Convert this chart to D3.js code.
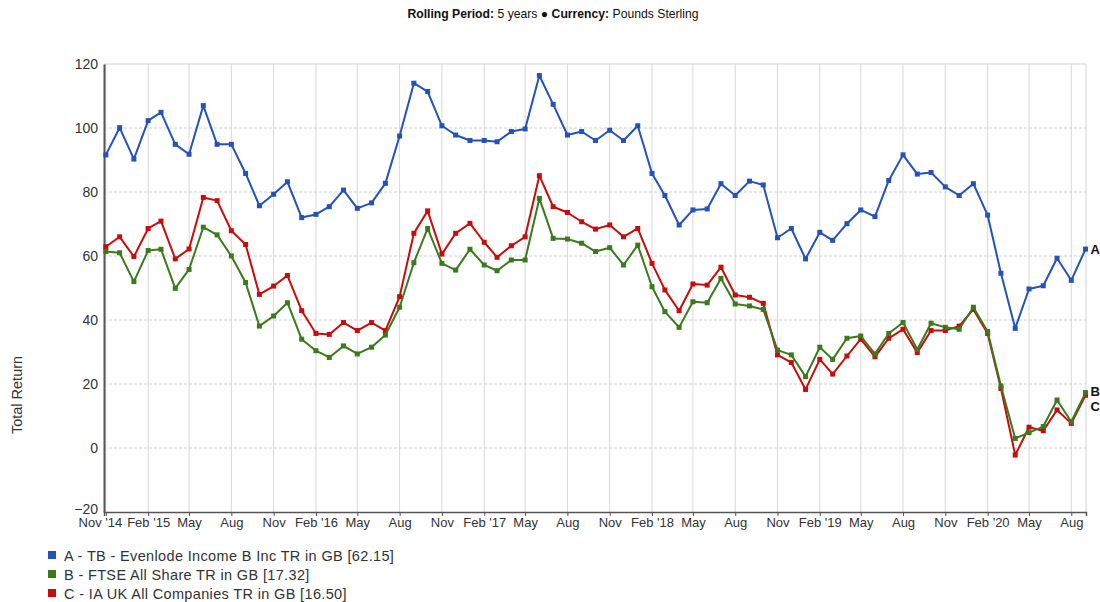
<!DOCTYPE html>
<html>
<head>
<meta charset="utf-8">
<script src="https://cdn.jsdelivr.net/npm/d3@7"></script>
<style>
  body { margin: 0; background: #fff; }
  svg { font-family: "Liberation Sans", Arial, sans-serif; }
  .grid-x line { stroke: #d9d9d9; stroke-width: 1; }
  .grid-y line { stroke: #d0d0d0; stroke-dasharray: 3,2; }
  .axis text { fill: #333; font-size: 13px; }
  .y-axis text { font-size: 14px; }
  .line { fill: none; stroke-width: 2; stroke-linejoin: round; }
</style>
</head>
<body>
<div id="container"></div>
<script>
// monthly values, Nov 2014 .. Sep 2020
const seriesA = [91.6, 100.1, 90.3, 102.3, 104.9, 94.9, 91.8, 107, 94.9, 94.9, 85.8, 75.7,
  79.3, 83.2, 72, 73, 75.4, 80.6, 74.9, 76.6, 82.7, 97.5, 114, 111.4,
  100.7, 97.8, 96.1, 96.1, 95.7, 98.9, 99.7, 116.4, 107.4, 97.8, 98.9, 96.1,
  99.3, 96.1, 100.7, 85.8, 78.9, 69.7, 74.4, 74.7, 82.6, 78.9, 83.4, 82.2,
  65.7, 68.6, 59.1, 67.4, 64.9, 70.1, 74.4, 72.3, 83.6, 91.6, 85.6, 86.1,
  81.6, 78.9, 82.6, 72.8, 54.6, 37.4, 49.7, 50.7, 59.3, 52.4, 62.15];
const seriesB = [61.4, 61, 52, 61.7, 62.1, 49.9, 55.8, 69, 66.6, 60, 51.7, 38.1,
  41.25, 45.4, 34, 30.4, 28.3, 31.9, 29.4, 31.5, 35.3, 44, 57.9, 68.6,
  57.7, 55.6, 62.1, 57.2, 55.4, 58.75, 58.75, 78, 65.5, 65.3, 64, 61.4,
  62.6, 57.2, 63.4, 50.4, 42.6, 37.7, 45.7, 45.4, 53, 45, 44.4, 43.3,
  30.6, 29.1, 22.3, 31.5, 27.7, 34.3, 35, 29.4, 35.8, 39.2, 30.8, 39,
  37.7, 37.1, 44, 36.4, 19.4, 3, 4.8, 6.7, 15, 8.2, 17.32];
const seriesC = [62.9, 66, 59.8, 68.6, 70.9, 59.1, 62.2, 78.3, 77.3, 67.9, 63.6, 48,
  50.6, 53.9, 42.9, 35.8, 35.5, 39.2, 36.7, 39.2, 36.7, 47.3, 67.1, 74.1,
  60.6, 67.1, 70.2, 64.3, 59.6, 63.2, 66, 85.1, 75.4, 73.6, 70.7, 68.4,
  69.7, 66, 68.6, 57.7, 49.4, 42.9, 51.25, 50.9, 56.5, 47.8, 47.1, 45.2,
  29.1, 26.7, 18.3, 27.7, 23.1, 28.75, 34, 28.5, 34.3, 37.1, 29.8, 36.7,
  36.7, 38.1, 43.3, 35.8, 18.6, -2.2, 6.5, 5.4, 11.9, 7.7, 16.5];

const seriesKeys = ["A", "B", "C"];
const seriesNames = [
  "A - TB - Evenlode Income B Inc TR in GB [62.15]",
  "B - FTSE All Share TR in GB [17.32]",
  "C - IA UK All Companies TR in GB [16.50]"
];
const seriesColors = ["#2452b8", "#3a7a1c", "#c80c0c"];

const xTickLabels = ["Nov '14", "Feb '15", "May", "Aug", "Nov", "Feb '16", "May", "Aug",
  "Nov", "Feb '17", "May", "Aug", "Nov", "Feb '18", "May", "Aug",
  "Nov", "Feb '19", "May", "Aug", "Nov", "Feb '20", "May", "Aug"];
const yTicks = [-20, 0, 20, 40, 60, 80, 100, 120];

const months = d3.timeMonth.range(new Date(2014, 10, 1), new Date(2020, 9, 1));
const tickDates = d3.timeMonth.range(new Date(2014, 10, 1), new Date(2020, 8, 2), 3);

const width = 1100, height = 602;
const margin = {top: 64, right: 14, bottom: 90, left: 104};

const svg = d3.select("#container").append("svg")
  .attr("width", width)
  .attr("height", height);

const x = d3.scaleTime()
  .domain([new Date(2014, 9, 28), new Date(2020, 8, 2)])
  .range([margin.left, width - margin.right]);

const y = d3.scaleLinear()
  .domain([-20, 120])
  .range([height - margin.bottom, margin.top]);

// title
const title = svg.append("text")
  .attr("x", 553).attr("y", 18)
  .attr("text-anchor", "middle")
  .style("font-size", "12.2px")
  .attr("fill", "#111");
title.append("tspan").attr("font-weight", "bold").text("Rolling Period:");
title.append("tspan").text(" 5 years \u25CF ");
title.append("tspan").attr("font-weight", "bold").text("Currency:");
title.append("tspan").text(" Pounds Sterling");

// grid
svg.append("g").attr("class", "grid-x")
  .selectAll("line").data(tickDates).join("line")
  .attr("x1", d => x(d)).attr("x2", d => x(d))
  .attr("y1", margin.top).attr("y2", height - margin.bottom);

svg.append("g").attr("class", "grid-y")
  .selectAll("line").data(yTicks.filter(d => d > -20 && d < 120)).join("line")
  .attr("x1", margin.left).attr("x2", width - margin.right)
  .attr("y1", d => y(d)).attr("y2", d => y(d));

// plot frame (top and right)
svg.append("path")
  .attr("d", `M${margin.left},${margin.top}H${width - margin.right}V${height - margin.bottom}`)
  .attr("fill", "none").attr("stroke", "#d4d4d4");

// axes
const xAxis = svg.append("g").attr("class", "axis")
  .attr("transform", `translate(0,${height - margin.bottom})`)
  .call(d3.axisBottom(x).tickValues(tickDates).tickSize(4).tickPadding(2)
    .tickFormat((d, i) => xTickLabels[i]));
xAxis.select(".domain").attr("stroke", "#555").attr("stroke-width", 1.5);
xAxis.selectAll(".tick line").attr("stroke", "#555");
// first label sits a little left of its tick, as in the source
xAxis.selectAll(".tick text").filter((d, i) => i === 0).attr("dx", -6);

const yAxis = svg.append("g").attr("class", "axis y-axis")
  .attr("transform", `translate(${margin.left},0)`)
  .call(d3.axisLeft(y).tickValues(yTicks).tickSize(0).tickPadding(6));
yAxis.select(".domain").attr("stroke", "#555").attr("stroke-width", 2);
// lift the bottom label off the date labels
yAxis.selectAll(".tick text").filter(d => d === -20).attr("y", -3);

svg.append("text")
  .attr("transform", "translate(22,395) rotate(-90)")
  .attr("text-anchor", "middle")
  .style("font-size", "14.5px")
  .attr("fill", "#333")
  .text("Total Return");

// lines
const allSeries = [seriesA, seriesB, seriesC];
const line = d3.line()
  .x((d, i) => x(months[i]))
  .y(d => y(d));

// draw in C, B, A order so blue/green sit on top
[2, 1, 0].forEach(k => {
  const vals = allSeries[k];
  svg.append("path")
    .datum(vals)
    .attr("class", "line")
    .attr("stroke", seriesColors[k])
    .attr("d", line);
  svg.append("g")
    .selectAll("rect").data(vals).join("rect")
    .attr("x", (d, i) => x(months[i]) - 2.5)
    .attr("y", d => y(d) - 2.5)
    .attr("width", 5).attr("height", 5)
    .attr("fill", seriesColors[k]);
});

// end labels
const lastIdx = months.length - 1;
const labelOffsets = [0, -2, 11];
seriesKeys.forEach((key, k) => {
  svg.append("text")
    .attr("x", x(months[lastIdx]) + 5)
    .attr("y", y(allSeries[k][lastIdx]) + 5 + labelOffsets[k])
    .style("font-size", "13px")
    .attr("font-weight", "bold")
    .attr("fill", "#111")
    .text(key);
});

// legend
const legend = svg.append("g");
seriesNames.forEach((name, k) => {
  const ly = 556 + k * 19;
  legend.append("rect")
    .attr("x", 48).attr("y", ly - 5)
    .attr("width", 8).attr("height", 8)
    .attr("fill", seriesColors[k]);
  legend.append("text")
    .attr("x", 64).attr("y", ly + 5)
    .style("font-size", "14.5px")
    .style("letter-spacing", "0.35px")
    .attr("fill", "#333")
    .text(name);
});
</script>
</body>
</html>
